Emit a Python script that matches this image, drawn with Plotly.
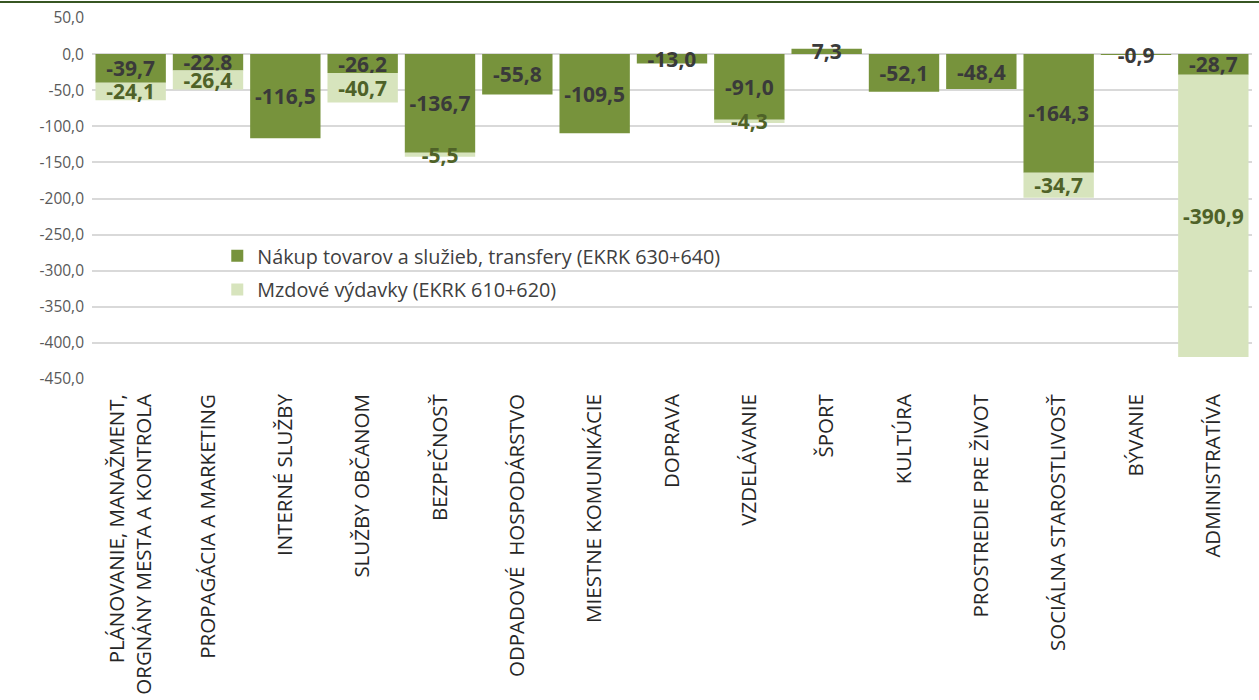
import plotly.graph_objects as go

categories = [
    "PLÁNOVANIE, MANAŽMENT,<br>ORGNÁNY MESTA A KONTROLA",
    "PROPAGÁCIA A MARKETING",
    "INTERNÉ SLUŽBY",
    "SLUŽBY OBČANOM",
    "BEZPEČNOSŤ",
    "ODPADOVÉ \u00a0HOSPODÁRSTVO",
    "MIESTNE KOMUNIKÁCIE",
    "DOPRAVA",
    "VZDELÁVANIE",
    "ŠPORT",
    "KULTÚRA",
    "PROSTREDIE PRE ŽIVOT",
    "SOCIÁLNA STAROSTLIVOSŤ",
    "BÝVANIE",
    "ADMINISTRATÍVA",
]
nakup = [-39.7, -22.8, -116.5, -26.2, -136.7, -55.8, -109.5, -13.0, -91.0, 7.3,
         -52.1, -48.4, -164.3, -0.9, -28.7]
mzdove = [-24.1, -26.4, None, -40.7, -5.5, None, None, None, -4.3, None,
          None, None, -34.7, None, -390.9]
y_ticks = [50, 0, -50, -100, -150, -200, -250, -300, -350, -400, -450]

name_nakup = "Nákup tovarov a služieb, transfery (EKRK 630+640)"
name_mzdove = "Mzdové výdavky (EKRK 610+620)"


def fmt(v):
    return "" if v is None else f"{v:.1f}".replace(".", ",")


FONT = "Open Sans"

fig = go.Figure()
fig.add_trace(go.Bar(
    x=categories, y=nakup, name=name_nakup, legendgroup="a",
    marker=dict(color="#77933C", line=dict(width=0)),
    text=[fmt(v) for v in nakup], textposition="inside",
    insidetextanchor="middle", textangle=0, constraintext="none",
    textfont=dict(family=FONT, size=21, color="#3A3A3A", weight="bold"),
    cliponaxis=False,
))
fig.add_trace(go.Bar(
    x=categories, y=mzdove, name=name_mzdove, legendgroup="b",
    marker=dict(color="#D7E4BD", line=dict(width=0)),
    text=[fmt(v) for v in mzdove], textposition="inside",
    insidetextanchor="middle", textangle=0, constraintext="none",
    textfont=dict(family=FONT, size=21, color="#4F6228", weight="bold"),
    cliponaxis=False,
))

fig.update_layout(
    width=1259, height=700,
    barmode="relative", bargap=0.09,
    margin=dict(l=92, r=7, t=18, b=321, autoexpand=False),
    paper_bgcolor="white", plot_bgcolor="white",
    font=dict(family=FONT, color="#595959"),
    uniformtext=dict(minsize=21, mode="show"),
    legend=dict(
        x=0.108, y=0.395, xanchor="left", yanchor="top",
        bgcolor="rgba(0,0,0,0)", font=dict(family=FONT, size=19.8, color="#404040"),
        tracegroupgap=5, traceorder="grouped",
    ),
    xaxis=dict(
        tickangle=-90, tickfont=dict(family=FONT, size=20.5, color="#262626"),
        showgrid=False, showline=False, zeroline=False, ticks="",
        ticklabelstandoff=10,
    ),
    yaxis=dict(
        range=[-450, 50], tickvals=y_ticks, ticktext=[fmt(v) for v in y_ticks],
        tickfont=dict(family=FONT, size=15.5, color="#595959"),
        showgrid=True, gridcolor="#D9D9D9", gridwidth=1.5,
        zeroline=False, showline=False, ticks="", ticklabelstandoff=7,
    ),
    shapes=[dict(type="line", xref="paper", yref="paper",
                 x0=-0.08, x1=1.01, y0=1.044, y1=1.044,
                 line=dict(color="#375623", width=2))],
)

fig.write_html("out.html", config={"displayModeBar": False},
               post_script="document.body.style.margin='0px';")
